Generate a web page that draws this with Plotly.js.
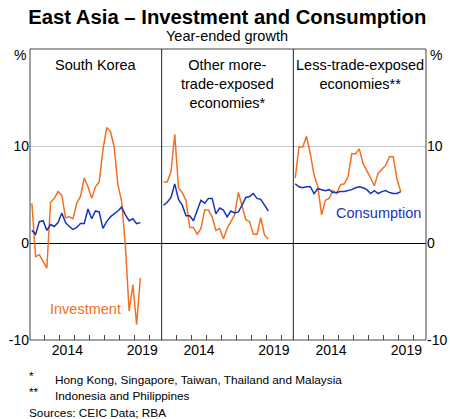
<!DOCTYPE html>
<html>
<head>
<meta charset="utf-8">
<script src="https://cdn.plot.ly/plotly-3.0.1.min.js"></script>
<style>html,body{margin:0;padding:0;background:#fff;}#chart{width:450px;height:419px;}</style>
</head>
<body>
<div id="chart"></div>
<script>
// Quarterly observations (year-ended growth, %)
const quarters = ['2012Q1','2012Q2','2012Q3','2012Q4','2013Q1','2013Q2','2013Q3','2013Q4',
  '2014Q1','2014Q2','2014Q3','2014Q4','2015Q1','2015Q2','2015Q3','2015Q4',
  '2016Q1','2016Q2','2016Q3','2016Q4','2017Q1','2017Q2','2017Q3','2017Q4',
  '2018Q1','2018Q2','2018Q3','2018Q4','2019Q1','2019Q2'];

const skInvestment = [4.1,-1.4,-1.2,-1.9,-2.6,4.2,4.6,5.3,4.9,2.6,2.7,2.5,4.1,4.8,6.7,5.8,
  4.6,5.8,6.3,9.6,11.9,11.5,9.9,6.0,4.3,-0.3,-7.0,-4.3,-8.4,-3.6];
const skConsumption = [1.3,0.9,2.2,2.3,1.3,1.9,1.7,2.1,3.1,2.1,1.7,1.4,1.6,2.0,2.0,3.5,
  2.5,3.3,3.2,1.5,2.2,2.7,3.0,3.3,3.7,2.9,2.3,2.5,2.0,2.1];

const moreInvestment = [6.3,6.3,7.4,11.2,5.7,5.2,4.4,1.6,1.6,0.9,1.5,3.4,3.4,2.7,1.3,1.5,
  0.4,1.5,2.2,2.9,5.2,3.8,2.4,2.2,0.9,0.9,2.6,0.8,0.4];
const moreConsumption = [3.9,4.2,4.7,6.1,4.5,3.9,2.8,2.8,2.3,3.3,4.4,4.1,4.6,4.6,3.0,3.6,
  3.4,2.7,3.3,3.1,3.2,3.9,4.7,4.8,5.1,4.6,4.5,3.9,3.3];

const lessInvestment = [6.7,9.9,9.9,11.0,9.2,7.0,5.8,2.9,4.4,4.6,5.4,5.1,6.0,6.1,6.8,9.2,
  9.2,9.7,8.2,7.5,6.7,5.9,7.2,7.6,8.0,8.9,8.9,6.6,5.3];
const lessConsumption = [6.1,5.8,5.7,5.8,5.8,5.1,5.6,5.5,5.4,5.5,5.2,5.2,5.3,5.3,5.4,5.5,
  5.7,5.8,5.7,5.5,5.1,5.4,5.1,5.3,5.4,5.2,5.1,5.1,5.3];

const panelTitles = ['South Korea', 'Other more-<br>trade-exposed<br>economies*', 'Less-trade-exposed<br>economies**'];
const yTicks = [-10, 0, 10];
const yTickText = ['-10', '0', '10'];
const xLabelVals = [2014.5, 2019.5];
const xLabelText = ['2014', '2019'];
const yearBoundaries = [2013, 2014, 2015, 2016, 2017, 2018, 2019, 2020];
const footnotes = ['Hong Kong, Singapore, Taiwan, Thailand and Malaysia', 'Indonesia and Philippines'];
const footMarks = ['*', '**'];
const sourceText = 'Sources: CEIC Data; RBA';

// quarter label -> decimal year at mid-quarter
function qx(q) { const y = +q.slice(0,4), n = +q.slice(5); return y + (n - 0.5) / 4; }

const ORANGE = '#f36f21';
const BLUE = '#1a34b8';
const FONT = 'Liberation Sans, Arial, sans-serif';
const W = 450, H = 419, ML = 30, MR = 24, MT = 49, MB = 79;
const PW = W - ML - MR, PH = H - MT - MB;
// pixel -> paper helpers for free-standing text
const px = v => (v - ML) / PW;
const py = v => (H - MB - v) / PH;

function line(xs, ys, xa, color) {
  return { x: xs.map(qx), y: ys, xaxis: xa, yaxis: 'y', type: 'scatter', mode: 'lines',
    line: { color: color, width: 1.5 }, hoverinfo: 'skip', showlegend: false };
}

const traces = [
  line(quarters.slice(0, skInvestment.length), skInvestment, 'x', ORANGE),
  line(quarters.slice(0, skConsumption.length), skConsumption, 'x', BLUE),
  line(quarters.slice(0, moreInvestment.length), moreInvestment, 'x2', ORANGE),
  line(quarters.slice(0, moreConsumption.length), moreConsumption, 'x2', BLUE),
  line(quarters.slice(0, lessInvestment.length), lessInvestment, 'x3', ORANGE),
  line(quarters.slice(0, lessConsumption.length), lessConsumption, 'x3', BLUE),
  { x: [], y: [], xaxis: 'x3', yaxis: 'y2', type: 'scatter', mode: 'lines', showlegend: false, hoverinfo: 'skip' }
];

const domains = [[0, 0.3325], [0.3325, 0.665], [0.665, 1]];
function xAxis(i) {
  return {
    domain: domains[i], anchor: 'y', range: [2012, 2020.8], fixedrange: true,
    tickmode: 'array', tickvals: xLabelVals, ticktext: xLabelText, ticks: '',
    showgrid: false, zeroline: false, showline: false,
    tickfont: { family: FONT, size: 14, color: '#000' },
    minor: { tickmode: 'array', tickvals: yearBoundaries, ticks: 'inside', ticklen: 5, tickwidth: 1, tickcolor: '#444', showgrid: false }
  };
}
const yBase = {
  range: [-10, 20], tickmode: 'array', tickvals: yTicks, ticktext: yTickText, ticks: '',
  showline: false, fixedrange: true, tickfont: { family: FONT, size: 14, color: '#000' }
};

const TXT = 14.5;
const FOOT = 11.8;
const annotations = [];
panelTitles.forEach((t, i) => {
  annotations.push({ text: t, xref: (i === 0 ? 'x' : 'x' + (i + 1)) + ' domain', x: 0.5, yref: 'paper', y: py(55),
    xanchor: 'center', yanchor: 'top', showarrow: false, font: { family: FONT, size: TXT, color: '#000' } });
});
annotations.push({ text: 'Year-ended growth', xref: 'paper', x: px(227), yref: 'paper', y: py(36),
  xanchor: 'center', yanchor: 'middle', showarrow: false, font: { family: FONT, size: TXT, color: '#000' } });
annotations.push({ text: '%', xref: 'paper', x: px(28), yref: 'paper', y: py(55),
  xanchor: 'right', yanchor: 'middle', showarrow: false, font: { family: FONT, size: 14, color: '#000' } });
annotations.push({ text: '%', xref: 'paper', x: px(428), yref: 'paper', y: py(55),
  xanchor: 'left', yanchor: 'middle', showarrow: false, font: { family: FONT, size: 14, color: '#000' } });
annotations.push({ text: 'Investment', xref: 'x', x: 2013.2, yref: 'y', y: -6.8,
  xanchor: 'left', yanchor: 'middle', showarrow: false, font: { family: FONT, size: TXT, color: ORANGE } });
annotations.push({ text: 'Consumption', xref: 'x3', x: 2014.7, yref: 'y', y: 3.1,
  xanchor: 'left', yanchor: 'middle', showarrow: false, font: { family: FONT, size: TXT, color: BLUE } });
footMarks.forEach((m, i) => {
  annotations.push({ text: m, xref: 'paper', x: px(27), yref: 'paper', y: py(376 + i * 16),
    xanchor: 'left', yanchor: 'middle', showarrow: false, font: { family: FONT, size: FOOT, color: '#000' } });
  annotations.push({ text: footnotes[i], xref: 'paper', x: px(53), yref: 'paper', y: py(380 + i * 16),
    xanchor: 'left', yanchor: 'middle', showarrow: false, font: { family: FONT, size: FOOT, color: '#000' } });
});
annotations.push({ text: sourceText, xref: 'paper', x: px(27), yref: 'paper', y: py(413),
  xanchor: 'left', yanchor: 'middle', showarrow: false, font: { family: FONT, size: FOOT, color: '#000' } });

const layout = {
  width: W, height: H,
  margin: { l: ML, r: MR, t: MT, b: MB, pad: 0 },
  paper_bgcolor: '#fff', plot_bgcolor: '#fff',
  title: { text: '<b>East Asia – Investment and Consumption</b>', font: { family: FONT, size: 20.3, color: '#000' },
    xref: 'container', x: 0.505, xanchor: 'center', yref: 'container', y: 1 - 17 / H, yanchor: 'middle' },
  xaxis: xAxis(0), xaxis2: xAxis(1), xaxis3: xAxis(2),
  yaxis: Object.assign({}, yBase, { anchor: 'x', side: 'left', showgrid: true, gridcolor: '#c8c8c8', gridwidth: 1,
    zeroline: true, zerolinecolor: '#000', zerolinewidth: 1 }),
  yaxis2: Object.assign({}, yBase, { overlaying: 'y', anchor: 'x3', side: 'right', showgrid: false, zeroline: false }),
  shapes: [
    { type: 'rect', xref: 'paper', yref: 'paper', x0: 0, x1: 1, y0: 0, y1: 1, line: { color: '#444', width: 1 } },
    { type: 'line', xref: 'x2 domain', yref: 'paper', x0: 0, x1: 0, y0: 0, y1: 1, line: { color: '#222', width: 1 } },
    { type: 'line', xref: 'x3 domain', yref: 'paper', x0: 0, x1: 0, y0: 0, y1: 1, line: { color: '#222', width: 1 } }
  ],
  annotations: annotations,
  showlegend: false
};

Plotly.newPlot('chart', traces, layout, { staticPlot: true, displayModeBar: false });
</script>
</body>
</html>
